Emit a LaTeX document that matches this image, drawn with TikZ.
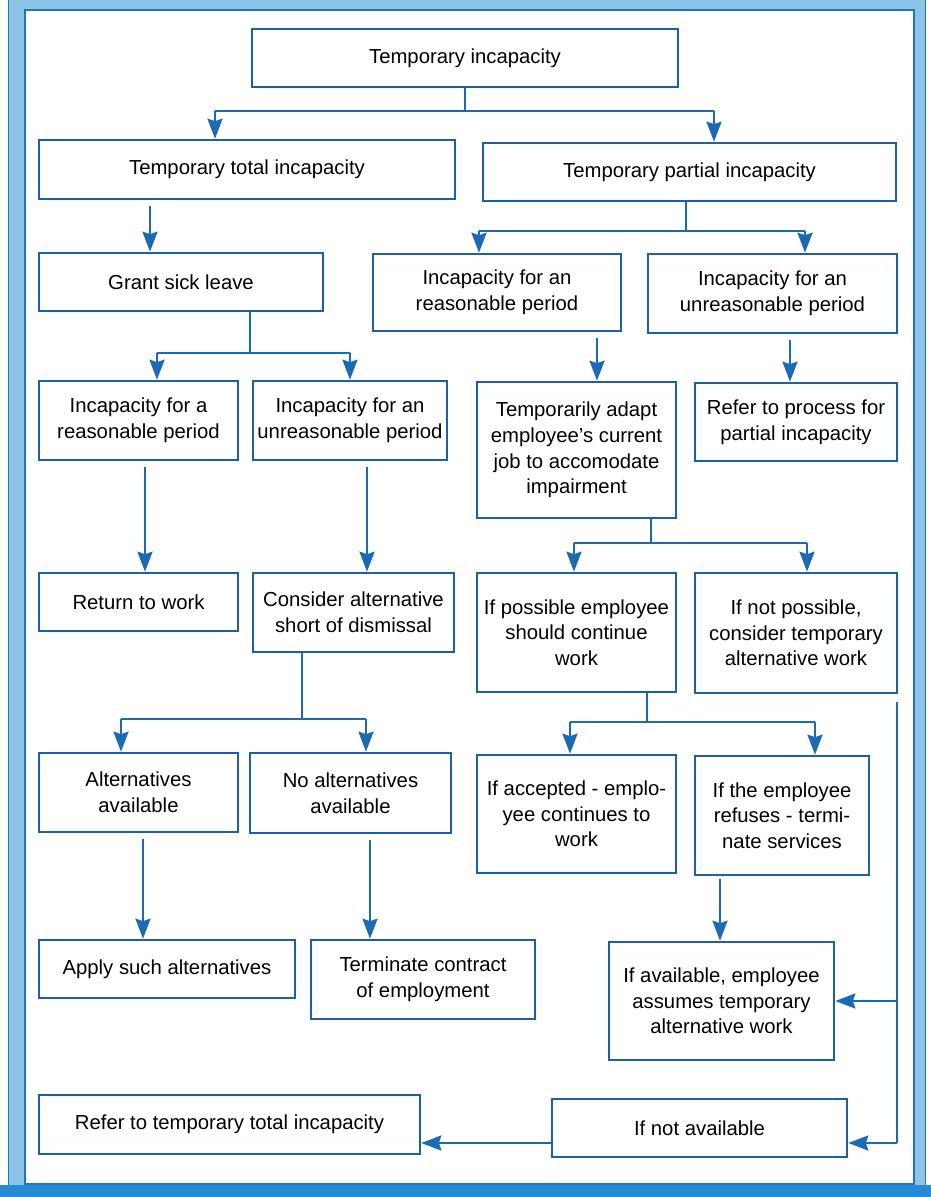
\documentclass[tikz,border=0pt]{standalone}
\usepackage{fontspec}
\setmainfont{Liberation Sans}
\usetikzlibrary{arrows.meta}

\definecolor{framelight}{RGB}{140,197,232}
\definecolor{framedark}{RGB}{35,115,190}
\definecolor{framemid}{RGB}{40,138,210}
\definecolor{boxblue}{RGB}{28,96,172}
\definecolor{lineblue}{RGB}{26,106,182}

\begin{document}
\begin{tikzpicture}[x=1pt,y=-1pt,
  box/.style={draw=boxblue, line width=2.6pt, align=center, inner sep=0pt,
    text=black, font=\fontsize{20.3}{25.7}\selectfont},
  link/.style={draw=lineblue, line width=2.5pt},
  flow/.style={link, -{Stealth[length=20pt,width=15pt,inset=2.5pt]}},
  gapflow/.style={flow, shorten <=6pt}]

% page and frame
\fill[white] (0,0) rectangle (931,1197);
\useasboundingbox (0,0) rectangle (931,1197);
\fill[framelight] (8,0) rectangle (926,1197);
\fill[framemid] (0,1185) rectangle (931,1197);
\fill[white] (25,10) rectangle (914,1184);
\draw[framedark, line width=1.6pt] (25,10) rectangle (914,1184);
\draw[framedark, line width=1.2pt] (8.6,0) -- (8.6,1185);
\draw[framedark, line width=1.2pt] (925.4,0) -- (925.4,1185);

% boxes
\node[box, minimum width=426, minimum height=58] (t1)  at (465,58)      {Temporary incapacity};
\node[box, minimum width=416, minimum height=59] (t2)  at (247,169.5)   {Temporary total incapacity};
\node[box, minimum width=413, minimum height=58] (t3)  at (689.5,172)   {Temporary partial incapacity};
\node[box, minimum width=284, minimum height=58] (t4)  at (181,282)     {Grant sick leave};
\node[box, minimum width=248, minimum height=77] (t5)  at (497,292.5)   {Incapacity for an\\reasonable period};
\node[box, minimum width=249, minimum height=79] (t6)  at (772.5,293.5) {Incapacity for an\\unreasonable period};
\node[box, minimum width=199, minimum height=79] (t7)  at (138.5,420.5) {Incapacity for a\\reasonable period};
\node[box, minimum width=194, minimum height=79] (t8)  at (350,420.5)   {Incapacity for an\\unreasonable period};
\node[box, minimum width=199, minimum height=136] (t9) at (576.5,450)   {Temporarily adapt\\employee’s current\\job to accomodate\\impairment};
\node[box, minimum width=202, minimum height=78] (t10) at (796,422)     {Refer to process for\\partial incapacity};
\node[box, minimum width=199, minimum height=58] (t11) at (138.5,602)   {Return to work};
\node[box, minimum width=201, minimum height=79] (t12) at (353.5,612.5) {Consider alternative\\short of dismissal};
\node[box, minimum width=199, minimum height=119] (t13) at (576.5,632.5) {If possible employee\\should continue\\work};
\node[box, minimum width=202, minimum height=120] (t14) at (796,633)    {If not possible,\\consider temporary\\alternative work};
\node[box, minimum width=199, minimum height=79] (t15) at (138.5,792.5) {Alternatives\\available};
\node[box, minimum width=201, minimum height=80] (t16) at (350.5,793)   {No alternatives\\available};
\node[box, minimum width=199, minimum height=118] (t17) at (576.5,814)  {If accepted - emplo-\\yee continues to\\work};
\node[box, minimum width=174, minimum height=119] (t18) at (782,815.5)  {If the employee\\refuses - termi-\\nate services};
\node[box, minimum width=256, minimum height=58] (t19) at (167,969)     {Apply such alternatives};
\node[box, minimum width=224, minimum height=79] (t20) at (423,979.5)   {Terminate contract\\of employment};
\node[box, minimum width=225, minimum height=118] (t21) at (721.5,1001) {If available, employee\\assumes temporary\\alternative work};
\node[box, minimum width=381, minimum height=59] (t22) at (229.5,1124.5) {Refer to temporary total incapacity};
\node[box, minimum width=295, minimum height=58] (t23) at (699.5,1128)  {If not available};

% junction points of the branching connectors
\coordinate (a1) at (215,111);  \coordinate (a2) at (714,111);
\coordinate (b0) at (686,0);    \coordinate (b1) at (479,231);  \coordinate (b2) at (805,231);
\coordinate (c0) at (250,0);    \coordinate (c1) at (157,353);  \coordinate (c2) at (350,353);
\coordinate (d0) at (651,0);    \coordinate (d1) at (574,543);  \coordinate (d2) at (807,543);
\coordinate (e0) at (302,0);    \coordinate (e1) at (121,719);  \coordinate (e2) at (366,719);
\coordinate (f0) at (647,0);    \coordinate (f1) at (570,722);  \coordinate (f2) at (815,722);

% Temporary incapacity splits in two
\draw[link] (t1.south) -- (t1.south |- a1);
\draw[link] (a1) -- (a2);
\draw[flow] (a1) -- (a1 |- t2.north);
\draw[flow] (a2) -- (a2 |- t3.north);

% partial incapacity splits
\draw[link] (b0 |- t3.south) -- (b0 |- b1);
\draw[link] (b1) -- (b2);
\draw[flow] (b1) -- (b1 |- t5.north);
\draw[flow] (b2) -- (b2 |- t6.north);

% sick leave splits
\draw[link] (c0 |- t4.south) -- (c0 |- c1);
\draw[link] (c1) -- (c2);
\draw[flow] (c1) -- (c1 |- t7.north);
\draw[flow] (c2) -- (c2 |- t8.north);

% adapted job splits
\draw[link] (d0 |- t9.south) -- (d0 |- d1);
\draw[link] (d1) -- (d2);
\draw[flow] (d1) -- (d1 |- t13.north);
\draw[flow] (d2) -- (d2 |- t14.north);

% alternatives split
\draw[link] (e0 |- t12.south) -- (e0 |- e1);
\draw[link] (e1) -- (e2);
\draw[flow] (e1) -- (e1 |- t15.north);
\draw[flow] (e2) -- (e2 |- t16.north);

% continue work splits
\draw[link] (f0 |- t13.south) -- (f0 |- f1);
\draw[link] (f1) -- (f2);
\draw[flow] (f1) -- (f1 |- t17.north);
\draw[flow] (f2) -- (f2 |- t18.north);

% straight arrows
\coordinate (g1) at (150,0);  \coordinate (g2) at (597,0);  \coordinate (g3) at (790,0);
\coordinate (g4) at (145,0);  \coordinate (g5) at (367,0);  \coordinate (g6) at (143,0);
\coordinate (g7) at (370,0);  \coordinate (g8) at (720,0);
\draw[gapflow] (g1 |- t2.south)  -- (g1 |- t4.north);
\draw[gapflow] (g2 |- t5.south)  -- (g2 |- t9.north);
\draw[gapflow] (g3 |- t6.south)  -- (g3 |- t10.north);
\draw[gapflow] (g4 |- t7.south)  -- (g4 |- t11.north);
\draw[gapflow] (g5 |- t8.south)  -- (g5 |- t12.north);
\draw[gapflow] (g6 |- t15.south) -- (g6 |- t19.north);
\draw[gapflow] (g7 |- t16.south) -- (g7 |- t20.north);
\draw[flow, shorten <=3pt] (g8 |- t18.south) -- (g8 |- t21.north);

% return path on the right side
\coordinate (r0) at (897,702);
\coordinate (r1) at (897,1001);
\coordinate (r2) at (897,1143);
\draw[link] (r0) -- (r2);
\draw[flow] (r1) -- (r1 -| t21.east);
\draw[flow] (r2) -- (r2 -| t23.east);
\draw[flow] (r2 -| t23.west) -- (r2 -| t22.east);

\end{tikzpicture}
\end{document}
